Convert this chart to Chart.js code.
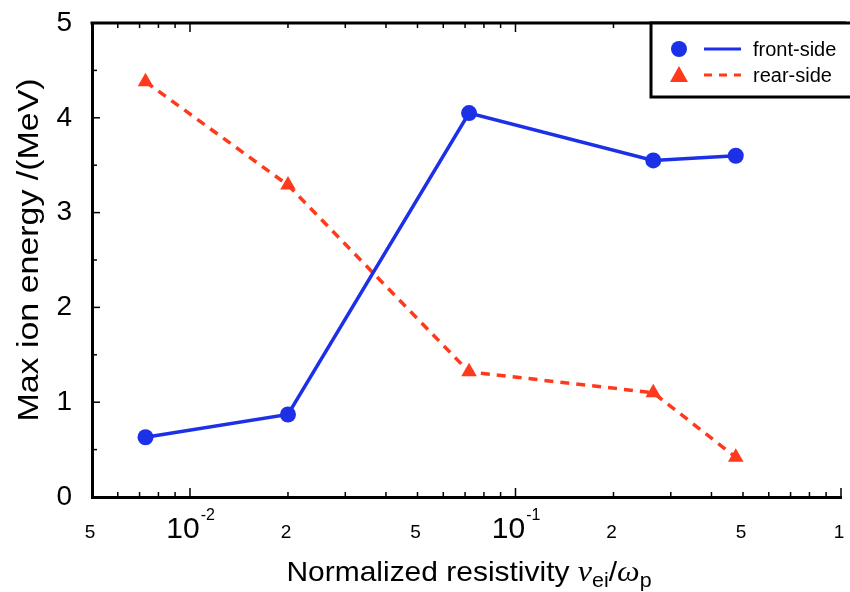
<!DOCTYPE html>
<html>
<head>
<meta charset="utf-8">
<script src="https://cdn.jsdelivr.net/npm/chart.js@4/dist/chart.umd.min.js"></script>
<style>
  html, body { margin: 0; padding: 0; background: #fff; }
  #wrap { width: 850px; height: 592px; }
</style>
</head>
<body>
<div id="wrap"><canvas id="chart" width="850" height="592"></canvas></div>
<script>
// chart data
const resistivity = [0.0073, 0.02, 0.072, 0.265, 0.475];
const frontSide = [0.63, 0.87, 4.05, 3.55, 3.60];
const rearSide = [4.38, 3.29, 1.32, 1.10, 0.42];
const yTicks = [0, 1, 2, 3, 4, 5];
const xTickValues = [0.005, 0.01, 0.02, 0.05, 0.1, 0.2, 0.5, 1];
const xTickLabels = ['5', '10|-2', '2', '5', '10|-1', '2', '5', '1'];

const FONT = '"Liberation Sans", Arial, sans-serif';
const SERIF = '"Liberation Serif", "Times New Roman", serif';
const BLUE = '#1c30e8';
const RED = '#ff3a1c';

// axes frame, inward ticks, x labels, titles and legend
const decorations = {
    id: 'decorations',
    afterDraw(chart) {
        const ctx = chart.ctx;
        const area = chart.chartArea;
        const xs = chart.scales.x;
        const ys = chart.scales.y;
        ctx.save();

        // top border
        ctx.strokeStyle = '#000';
        ctx.lineWidth = 3;
        ctx.beginPath();
        ctx.moveTo(area.left - 1.5, area.top);
        ctx.lineTo(area.right + 5, area.top);
        ctx.stroke();

        // x ticks (log minor ticks), bottom and top
        ctx.lineWidth = 1.5;
        for (let dec = -3; dec <= 0; dec++) {
            for (let m = 1; m <= 9; m++) {
                const v = m * Math.pow(10, dec);
                if (v < 0.005 || v > 1) continue;
                const px = xs.getPixelForValue(v);
                const len = m === 1 ? 9 : 5;
                ctx.beginPath();
                ctx.moveTo(px, area.bottom);
                ctx.lineTo(px, area.bottom - len);
                ctx.moveTo(px, area.top);
                ctx.lineTo(px, area.top + len);
                ctx.stroke();
            }
        }
        // y ticks every 0.5
        for (let v = 0.5; v < 5; v += 0.5) {
            const py = ys.getPixelForValue(v);
            const len = Number.isInteger(v) ? 8 : 5;
            ctx.beginPath();
            ctx.moveTo(area.left, py);
            ctx.lineTo(area.left + len, py);
            ctx.stroke();
        }

        // x tick labels
        ctx.fillStyle = '#000';
        ctx.textBaseline = 'alphabetic';
        xTickValues.forEach((v, i) => {
            const px = xs.getPixelForValue(v);
            const parts = xTickLabels[i].split('|');
            if (parts.length === 1) {
                ctx.font = '19px ' + FONT;
                ctx.textAlign = 'center';
                ctx.fillText(parts[0], px - 2, 538);
            } else {
                ctx.font = '30px ' + FONT;
                const w = ctx.measureText(parts[0]).width;
                ctx.textAlign = 'left';
                const x0 = px - w / 2 - 7;
                ctx.fillText(parts[0], x0, 538);
                ctx.font = '16px ' + FONT;
                ctx.fillText(parts[1], x0 + w + 1, 520);
            }
        });

        // x title
        const segs = [
            { t: 'Normalized resistivity ', f: '28px ' + FONT, dy: 0 },
            { t: '\u03BD', f: 'italic 30px ' + SERIF, dy: 0 },
            { t: 'ei', f: '20px ' + FONT, dy: 6 },
            { t: '/', f: '28px ' + FONT, dy: 0 },
            { t: '\u03C9', f: 'italic 30px ' + SERIF, dy: 0 },
            { t: 'p', f: '20px ' + FONT, dy: 6 }
        ];
        const sx = 1.07;
        let total = 0;
        segs.forEach(s => { ctx.font = s.f; s.w = ctx.measureText(s.t).width; total += s.w; });
        ctx.save();
        ctx.translate(469 - total * sx / 2, 581);
        ctx.scale(sx, 1);
        let x0 = 0;
        ctx.textAlign = 'left';
        segs.forEach(s => {
            ctx.font = s.f;
            ctx.fillText(s.t, x0, s.dy);
            x0 += s.w;
        });
        ctx.restore();

        // y title
        ctx.save();
        ctx.translate(38, 250);
        ctx.rotate(-Math.PI / 2);
        ctx.scale(1.17, 1);
        ctx.font = '29px ' + FONT;
        ctx.textAlign = 'center';
        ctx.fillText('Max ion energy /(MeV)', 0, 0);
        ctx.restore();

        // legend
        ctx.fillStyle = '#fff';
        ctx.fillRect(651, 23, 205, 74);
        ctx.strokeStyle = '#000';
        ctx.lineWidth = 3;
        ctx.strokeRect(651, 23, 210, 74);
        const items = [
            { label: 'front-side', color: BLUE, dash: [], shape: 'circle', y: 49 },
            { label: 'rear-side', color: RED, dash: [8, 7], shape: 'triangle', y: 75 }
        ];
        items.forEach(it => {
            ctx.fillStyle = it.color;
            ctx.beginPath();
            if (it.shape === 'circle') {
                ctx.arc(679, it.y, 8, 0, Math.PI * 2);
            } else {
                ctx.moveTo(679, it.y - 9);
                ctx.lineTo(688, it.y + 7);
                ctx.lineTo(670, it.y + 7);
                ctx.closePath();
            }
            ctx.fill();
            ctx.strokeStyle = it.color;
            ctx.lineWidth = 3;
            ctx.setLineDash(it.dash);
            ctx.beginPath();
            ctx.moveTo(704, it.y);
            ctx.lineTo(741, it.y);
            ctx.stroke();
            ctx.setLineDash([]);
            ctx.fillStyle = '#000';
            ctx.font = '20px ' + FONT;
            ctx.textAlign = 'left';
            ctx.textBaseline = 'middle';
            ctx.fillText(it.label, 753, it.y + 1);
        });
        ctx.restore();
    }
};

const ctx = document.getElementById('chart').getContext('2d');
const chart = new Chart(ctx, {
    type: 'line',
    data: {
        datasets: [{
            label: 'front-side',
            data: resistivity.map((x, i) => ({ x: x, y: frontSide[i] })),
            borderColor: BLUE,
            backgroundColor: BLUE,
            borderWidth: 3.5,
            pointStyle: 'circle',
            pointRadius: 8,
            pointBorderWidth: 0,
            tension: 0
        }, {
            label: 'rear-side',
            data: resistivity.map((x, i) => ({ x: x, y: rearSide[i] })),
            borderColor: RED,
            backgroundColor: RED,
            borderWidth: 3.5,
            borderDash: [9, 7],
            pointStyle: 'triangle',
            pointRadius: 9,
            pointBorderWidth: 0,
            tension: 0
        }]
    },
    options: {
        responsive: false,
        animation: false,
        devicePixelRatio: 1,
        layout: {
            padding: { left: 0, top: 23, right: 3, bottom: 0 }
        },
        plugins: {
            legend: { display: false },
            tooltip: { enabled: false }
        },
        scales: {
            x: {
                type: 'logarithmic',
                min: 0.005,
                max: 1,
                grid: { display: false },
                border: { display: true, color: '#000', width: 3 },
                ticks: { display: false },
                afterFit: function(scale) {
                    scale.height = 95;
                    scale.paddingLeft = 0;
                    scale.paddingRight = 0;
                }
            },
            y: {
                min: 0,
                max: 5,
                afterBuildTicks: function(scale) {
                    scale.ticks = yTicks.map(v => ({ value: v }));
                },
                grid: { display: false },
                border: { display: true, color: '#000', width: 3 },
                ticks: {
                    color: '#000',
                    padding: 12,
                    font: { family: FONT, size: 28 }
                },
                afterFit: function(scale) {
                    scale.width = 92;
                    scale.paddingTop = 0;
                    scale.paddingBottom = 0;
                }
            }
        }
    },
    plugins: [decorations]
});
</script>
</body>
</html>
